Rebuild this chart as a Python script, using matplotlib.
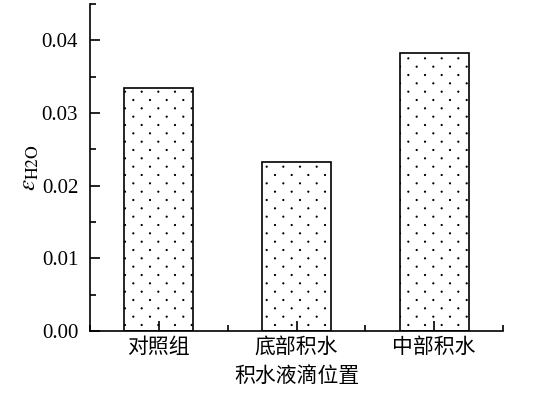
import matplotlib
matplotlib.use('Agg')
import matplotlib.pyplot as plt
import matplotlib.hatch as mhatch
from matplotlib.path import Path
from matplotlib.ticker import MultipleLocator, FormatStrFormatter
import numpy as np

plt.rcParams['font.family'] = ['Liberation Serif', 'Noto Sans CJK SC']
plt.rcParams['mathtext.fontset'] = 'stix'
plt.rcParams['hatch.linewidth'] = 0.7

categories = ['对照组', '底部积水', '中部积水']
values = [0.0334, 0.0232, 0.0382]


# sparse staggered dot fill, like the Origin "dots" pattern
class DotLattice(mhatch.HatchPatternBase):
    cols = 6
    rows = 12
    radius = 0.006

    def __init__(self, hatch, density):
        circ = Path.unit_circle()
        self.sv = circ.vertices * self.radius
        self.sc = circ.codes
        self.pts = []
        if hatch.count('.'):
            for r in range(self.rows + 1):
                if r % 2 == 0:
                    xs = np.linspace(0, 1, self.cols + 1)
                else:
                    xs = (np.arange(self.cols) + 0.5) / self.cols
                for x in xs:
                    self.pts.append((x, r / self.rows))
        self.num_vertices = len(self.pts) * len(self.sv)

    def set_vertices_and_codes(self, vertices, codes):
        np.concatenate([self.sv + p for p in self.pts], out=vertices)
        np.concatenate([self.sc] * len(self.pts), out=codes)


mhatch._hatch_types = [t for t in mhatch._hatch_types
                       if t is not mhatch.SmallFilledCircles] + [DotLattice]

fig = plt.figure(figsize=(5.43, 3.96), dpi=100)
ax = fig.add_axes([90/543, 65/396, 413/543, 327/396])

ax.bar(range(len(categories)), values, width=0.5, color='white',
       edgecolor='black', linewidth=1.2, hatch='.')

ax.set_xlim(-0.5, 2.5)
ax.set_ylim(0, 0.045)
ax.spines['top'].set_visible(False)
ax.spines['right'].set_visible(False)
ax.spines['left'].set_linewidth(1.2)
ax.spines['bottom'].set_linewidth(1.2)

ax.set_xticks(range(len(categories)))
ax.set_xticklabels(categories, family=['Noto Sans CJK SC'], fontsize=15)
ax.xaxis.set_minor_locator(MultipleLocator(0.5))
ax.yaxis.set_major_locator(MultipleLocator(0.01))
ax.yaxis.set_minor_locator(MultipleLocator(0.005))
ax.yaxis.set_major_formatter(FormatStrFormatter('%.2f'))
ax.tick_params(which='both', direction='in', width=1.2)
ax.tick_params(which='major', length=7)
ax.tick_params(which='minor', length=4)
ax.tick_params(axis='y', labelsize=15, pad=8.5)
ax.tick_params(axis='x', pad=3.5)

ax.set_xlabel('积水液滴位置', family=['Noto Sans CJK SC'], fontsize=15, labelpad=5)
ax.set_ylabel(r'$\varepsilon_{\mathrm{H2O}}$', fontsize=18)
ax.yaxis.set_label_coords(-0.119, 0.5)

fig.savefig('out.png', dpi=100)
